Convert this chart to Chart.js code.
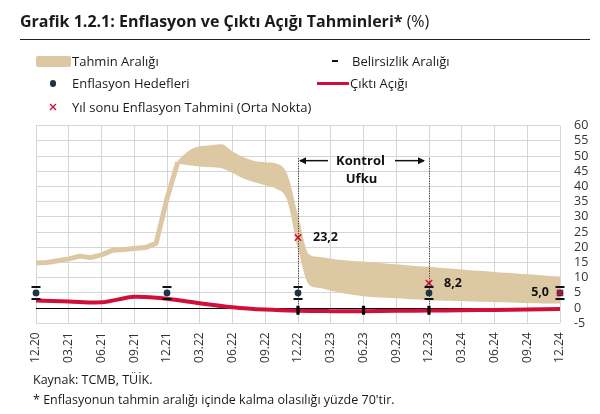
<!DOCTYPE html>
<html><head><meta charset="utf-8">
<script src="https://cdn.jsdelivr.net/npm/chart.js@4.4.0/dist/chart.umd.min.js"></script>
<style>
html,body{margin:0;padding:0;background:#fff;}
body{width:600px;height:414px;position:relative;overflow:hidden;font-family:"Open Sans",sans-serif;color:#1a1a1a;}
#c{position:absolute;left:0;top:0;}
.t{position:absolute;white-space:nowrap;line-height:18px;font-size:13px;}
</style></head><body>
<canvas id="c" width="600" height="414"></canvas>
<div class="t" id="title" style="left:20px;top:9.5px;font-size:16px;line-height:22px;font-weight:700;">Grafik 1.2.1: Enflasyon ve Çıktı Açığı Tahminleri*<span style="font-weight:400"> (%)</span></div>
<div style="position:absolute;left:20px;top:38.5px;width:570px;height:1.5px;background:#222"></div>
<div style="position:absolute;left:36px;top:56px;width:35px;height:11px;background:#ddc8a4;border-radius:2px"></div>
<div class="t" style="left:72px;top:52px">Tahmin Aralığı</div>
<div style="position:absolute;left:332px;top:60px;width:6px;height:2px;background:#111"></div>
<div class="t" style="left:352px;top:52px">Belirsizlik Aralığı</div>
<div style="position:absolute;left:49.7px;top:80px;width:6.6px;height:6.6px;border-radius:50%;background:#1d3549"></div>
<div class="t" style="left:72px;top:74.3px">Enflasyon Hedefleri</div>
<div style="position:absolute;left:317px;top:82px;width:32px;height:3px;background:#d0103a"></div>
<div class="t" style="left:350px;top:74.3px">Çıktı Açığı</div>
<svg style="position:absolute;left:49px;top:102.7px" width="8" height="8"><path d="M1 1L7 7M7 1L1 7" stroke="#d0103a" stroke-width="1.4"/></svg>
<div class="t" style="left:72px;top:97.7px">Yıl sonu Enflasyon Tahmini (Orta Nokta)</div>
<div class="t" style="left:33px;top:371px;font-size:12.5px">Kaynak: TCMB, TÜİK.</div>
<div class="t" style="left:33px;top:391px;font-size:12.5px">* Enflasyonun tahmin aralığı içinde kalma olasılığı yüzde 70'tir.</div>
<script>
// ---- data ----
const months = ['12.20','01.21','02.21','03.21','04.21','05.21','06.21','07.21','08.21','09.21','10.21','11.21',
  '12.21','01.22','02.22','03.22','04.22','05.22','06.22','07.22','08.22','09.22','10.22','11.22',
  '12.22','01.23','02.23','03.23','04.23','05.23','06.23','07.23','08.23','09.23','10.23','11.23',
  '12.23','01.24','02.24','03.24','04.24','05.24','06.24','07.24','08.24','09.24','10.24','11.24','12.24'];
// realised inflation, 12.20 .. 01.22
const actualMonths = ['12.20','01.21','02.21','03.21','04.21','05.21','06.21','07.21','08.21','09.21','10.21','11.21','12.21','01.22'];
const actualInflation = [14.8,15.0,15.6,16.2,17.1,16.6,17.5,19.0,19.3,19.6,19.9,21.3,36.1,48.1];
// forecast band, 01.22 .. 12.24
const bandMonths = months.slice(13);
const bandUpper = [48.6,51.8,53.2,53.6,53.9,51.5,49.6,48.4,48.0,47.6,44.2,30.5,
  17.8,16.8,16.2,15.8,15.5,15.3,15.0,14.7,14.4,14.1,13.8,13.6,
  13.3,13.0,12.7,12.4,12.2,11.9,11.6,11.4,11.1,10.9,10.6,10.4];
const bandLower = [47.6,47.0,46.6,46.3,46.0,44.4,42.6,41.4,40.4,39.3,35.6,19.5,
  7.8,6.6,5.7,5.0,4.4,3.9,3.6,3.4,3.2,3.0,2.8,2.6,
  2.5,2.4,2.3,2.2,2.1,2.0,1.9,1.8,1.7,1.6,1.5,1.5];
// output gap, quarterly
const gapMonths = ['12.20','03.21','06.21','09.21','12.21','03.22','06.22','09.22','12.22','03.23','06.23','09.23','12.23','03.24','06.24','09.24','12.24'];
const outputGap = [2.5,2.2,1.9,3.7,3.1,1.6,0.3,-0.5,-0.9,-1.0,-1.0,-0.9,-0.8,-0.7,-0.6,-0.5,-0.3];
// inflation targets and uncertainty
const targetMonths = ['12.20','12.21','12.22','12.23','12.24'];
const targets = [5,5,5,5,5];
const targetLow = [3,3,3,3,3];
const targetHigh = [7,7,7,7,7];
// year-end forecasts (mid point)
const forecastMonths = ['12.22','12.23','12.24'];
const forecasts = [23.2,8.2,5.0];
// uncertainty marks on output gap
const markMonths = ['12.22','06.23','12.23'];
const markValues = [-0.7,-0.7,-0.7];
// control horizon
const horizon = ['12.22','12.23'];
const horizonTop = 49.3;
const horizonText = ['Kontrol','Ufku'];
const yTicks = {min:-5,max:60,step:5};

const TAN='#ddc8a4', RED='#d0103a', NAVY='#1d3549';
const pts=(xs,ys)=>xs.map((x,i)=>({x:x,y:ys[i]}));

const annot = {
  id:'annot',
  afterDatasetsDraw(chart){
    const ctx=chart.ctx, xs=chart.scales.x, ys=chart.scales.y;
    ctx.save();
    ctx.strokeStyle='#111'; ctx.lineWidth=2;
    targetMonths.forEach((m,i)=>{
      const x=xs.getPixelForValue(months.indexOf(m));
      [targetLow[i],targetHigh[i]].forEach(v=>{
        const y=Math.round(ys.getPixelForValue(v));
        ctx.beginPath(); ctx.moveTo(x-4.5,y); ctx.lineTo(x+4.5,y); ctx.stroke();
      });
    });
    ctx.lineWidth=1; ctx.setLineDash([1,1.5]); ctx.strokeStyle='#222';
    const hx=horizon.map(m=>xs.getPixelForValue(months.indexOf(m)));
    hx.forEach(x=>{
      ctx.beginPath(); ctx.moveTo(x+0.5,ys.getPixelForValue(horizonTop)); ctx.lineTo(x+0.5,ys.getPixelForValue(0)); ctx.stroke();
    });
    ctx.setLineDash([]);
    const ay=ys.getPixelForValue(48.5);
    ctx.strokeStyle='#111'; ctx.fillStyle='#111'; ctx.lineWidth=1.5;
    const arrow=(x1,x2)=>{
      ctx.beginPath(); ctx.moveTo(x1,ay); ctx.lineTo(x2,ay); ctx.stroke();
      const d=x2>x1?1:-1;
      ctx.beginPath(); ctx.moveTo(x2+d*1,ay); ctx.lineTo(x2-d*6,ay-3.5); ctx.lineTo(x2-d*6,ay+3.5); ctx.closePath(); ctx.fill();
    };
    arrow(hx[0]+30,hx[0]+2);
    arrow(hx[1]-34,hx[1]-5);
    const mid=(hx[0]+hx[1])/2;
    ctx.font='bold 13px "Open Sans"'; ctx.textAlign='center'; ctx.textBaseline='middle'; ctx.fillStyle='#111';
    ctx.fillText(horizonText[0],mid-3,ay+1);
    ctx.fillText(horizonText[1],mid-2,ay+18.5);
    ctx.font='bold 12.5px "Open Sans"';
    forecastMonths.forEach((m,i)=>{
      const x=xs.getPixelForValue(months.indexOf(m)), y=ys.getPixelForValue(forecasts[i]);
      const s=forecasts[i].toFixed(1).replace('.',',');
      if(i===forecastMonths.length-1){ctx.textAlign='right'; ctx.fillText(s,x-11,y);}
      else {ctx.textAlign='left'; ctx.fillText(s,x+15,y);}
    });
    ctx.restore();
  }
};

new Chart(document.getElementById('c'),{
  type:'line',
  data:{labels:months,datasets:[
    {label:'Tahmin Aralığı',data:pts(bandMonths,bandUpper),borderColor:'rgba(0,0,0,0)',backgroundColor:TAN,borderWidth:0,pointRadius:0,fill:'+1',cubicInterpolationMode:'monotone',order:10},
    {label:'alt',data:pts(bandMonths,bandLower),borderColor:'rgba(0,0,0,0)',backgroundColor:TAN,borderWidth:0,pointRadius:0,fill:false,cubicInterpolationMode:'monotone',order:10},
    {label:'Enflasyon',data:pts(actualMonths,actualInflation),borderColor:TAN,borderWidth:5,pointRadius:0,fill:false,tension:0,order:9,borderJoinStyle:'round'},
    {label:'Çıktı Açığı',data:pts(gapMonths,outputGap),borderColor:RED,borderWidth:4,pointRadius:0,fill:false,tension:0.3,order:6},
    {label:'Belirsizlik',data:pts(markMonths,markValues),showLine:false,pointStyle:'line',rotation:90,pointRadius:4.5,borderColor:'#000',pointBorderWidth:3.2,order:5},
    {label:'Enflasyon Hedefleri',data:pts(targetMonths,targets),showLine:false,pointStyle:'circle',pointRadius:3.4,pointBackgroundColor:NAVY,pointBorderColor:NAVY,pointBorderWidth:0,order:3},
    {label:'Yıl sonu',data:pts(forecastMonths,forecasts),showLine:false,pointStyle:'crossRot',pointRadius:4.5,pointBorderColor:RED,pointBorderWidth:1.5,order:1}
  ]},
  options:{
    responsive:false,animation:false,devicePixelRatio:1,
    layout:{padding:{left:36,top:125.7,right:0,bottom:0}},
    plugins:{legend:{display:false},tooltip:{enabled:false}},
    scales:{
      x:{type:'category',offset:false,border:{display:false},
        grid:{drawTicks:false,color:c=>(c.index%3===0?'#d6d6d6':'rgba(0,0,0,0)'),lineWidth:1},
        ticks:{autoSkip:false,maxRotation:90,minRotation:90,padding:9,color:'#333',font:{family:'"Open Sans"',size:12},
          callback:function(v,i){return i%3===0?months[i]:'';}},
        afterFit:s=>{s.height=414-323.3;}},
      y:{position:'right',min:yTicks.min,max:yTicks.max,border:{display:false},
        grid:{drawTicks:false,color:c=>(c.tick.value===0?'#000':'#d6d6d6'),lineWidth:1},
        ticks:{stepSize:yTicks.step,autoSkip:false,padding:14,color:'#333',font:{family:'"Open Sans"',size:12.5}},
        afterFit:s=>{s.width=40;}}
    }
  },
  plugins:[annot]
});
</script>
</body></html>
